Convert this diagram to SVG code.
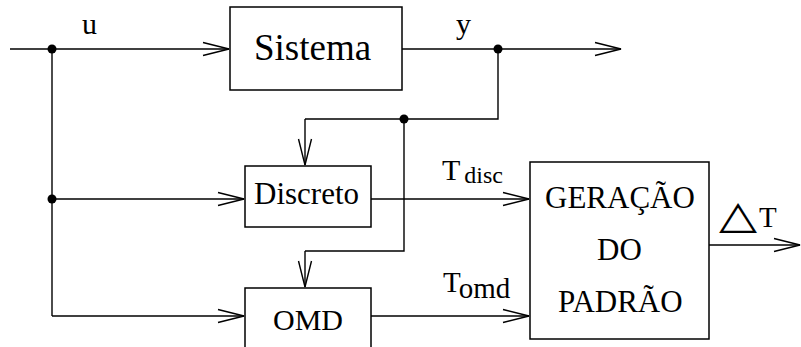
<svg xmlns="http://www.w3.org/2000/svg" width="801" height="347" viewBox="0 0 801 347">
  <style>
    .box { fill: #fff; stroke: #000; stroke-width: 1.5; }
    .wire { fill: none; stroke: #000; stroke-width: 1.4; }
    .arrow { fill: none; stroke: #000; stroke-width: 1.4; marker-end: url(#head); }
    .dot { fill: #000; }
  </style>
  <defs>
    <marker id="head" markerUnits="userSpaceOnUse" markerWidth="30" markerHeight="16" refX="28" refY="8" orient="auto" overflow="visible">
      <path d="M2,1.5 L28,8 L2,14.5" fill="none" stroke="#000" stroke-width="1.4"/>
    </marker>
  </defs>

  <rect width="801" height="347" fill="#fff"/>

  <g font-family="'Liberation Serif', 'Times New Roman', serif" fill="#000">
  <!-- signal wiring -->
  <g id="connectors">
    <!-- input u -->
    <path class="arrow" d="M10,49 H229"/>
    <path class="wire" d="M52,49 V316"/>
    <path class="arrow" d="M52,199 H244"/>
    <path class="arrow" d="M52,316 H244"/>
    <!-- output y -->
    <path class="arrow" d="M402,49 H621"/>
    <path class="wire" d="M498,49 V119 H305"/>
    <path class="arrow" d="M305,119 V165"/>
    <path class="wire" d="M404,119 V251 H305"/>
    <path class="arrow" d="M305,251 V287"/>
    <!-- estimates to pattern generator -->
    <path class="arrow" d="M371,199 H529"/>
    <path class="arrow" d="M371,316 H529"/>
    <!-- pattern output -->
    <path class="arrow" d="M709,245 H800"/>
    <!-- branch points -->
    <circle class="dot" cx="52" cy="49" r="4.5"/>
    <circle class="dot" cx="52" cy="199" r="4.5"/>
    <circle class="dot" cx="498" cy="49" r="4.5"/>
    <circle class="dot" cx="404" cy="119" r="4.5"/>
    <!-- signal labels -->
    <text x="82" y="34" font-size="30">u</text>
    <text x="456" y="34" font-size="30">y</text>
    <text x="442" y="180" font-size="30">T<tspan font-size="24" dx="4" dy="3">disc</tspan></text>
    <text x="443" y="292" font-size="29">T<tspan dy="6">omd</tspan></text>
    <text font-family="'DejaVu Sans', sans-serif" font-size="39" transform="translate(719,228) scale(1.27,1)">△</text>
    <text x="759" y="227" font-size="29">T</text>
  </g>

  <g id="sistema">
    <rect class="box" x="230" y="7" width="172" height="83"/>
    <text x="254" y="60" font-size="37">Sistema</text>
  </g>

  <g id="discreto">
    <rect class="box" x="245" y="166" width="126" height="61"/>
    <text x="254" y="204" font-size="31">Discreto</text>
  </g>

  <g id="omd">
    <rect class="box" x="245" y="288" width="126" height="70"/>
    <text x="273" y="330" font-size="30">OMD</text>
  </g>

  <g id="geracao">
    <rect class="box" x="530" y="162" width="179" height="177"/>
    <text x="545" y="208" font-size="31">GERAÇÃO</text>
    <text x="597" y="260" font-size="31">DO</text>
    <text x="558" y="312" font-size="31">PADRÃO</text>
  </g>
  </g>
</svg>
